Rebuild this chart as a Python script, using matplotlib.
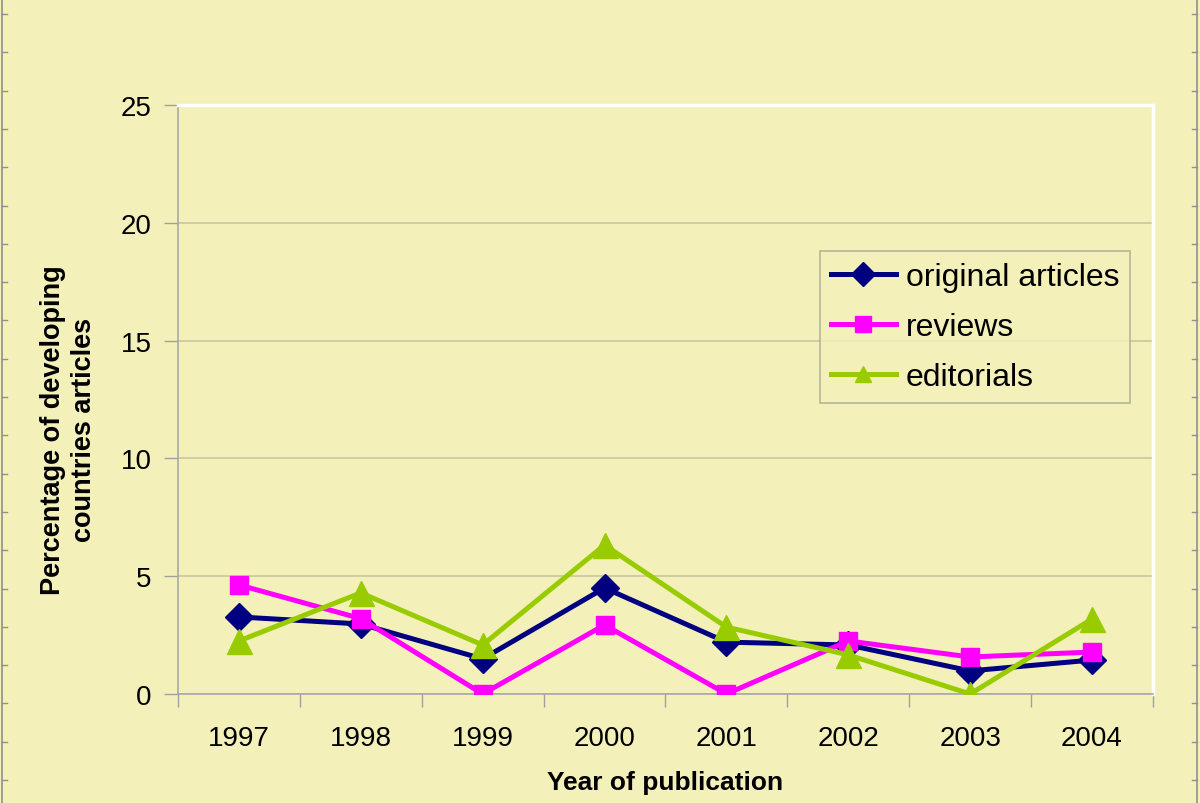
import numpy as np
import matplotlib
matplotlib.use("Agg")
import matplotlib.pyplot as plt
from matplotlib.lines import Line2D

years = ["1997", "1998", "1999", "2000", "2001", "2002", "2003", "2004"]
original_articles = [3.27, 2.97, 1.49, 4.50, 2.20, 2.08, 0.98, 1.44]
reviews = [4.63, 3.20, 0.00, 2.93, 0.00, 2.25, 1.57, 1.78]
editorials = [2.25, 4.29, 2.08, 6.32, 2.84, 1.66, 0.00, 3.18]
y_ticks = [0, 5, 10, 15, 20, 25]

plt.rcParams['font.family'] = ['Liberation Sans', 'DejaVu Sans']
bg = "#F4F0BA"

fig = plt.figure(figsize=(12, 8.04), dpi=100, facecolor=bg)
ax = fig.add_axes([0.1483, 0.1356, 0.8125, 0.7326])
ax.set_facecolor(bg)

x = np.arange(1, len(years) + 1)
ax.plot(x, original_articles, color="#000080", lw=3.6, marker="D", ms=14,
        label="original articles", zorder=3)
ax.plot(x, reviews, color="#FF00FF", lw=3.6, marker="s", ms=13,
        label="reviews", zorder=4)
ax.plot(x, editorials, color="#99CC00", lw=3.6, marker="^", ms=18,
        label="editorials", zorder=5)

ax.set_xlim(0.5, len(years) + 0.5)
ax.set_ylim(0, 25)
ax.set_yticks(y_ticks)
ax.set_xticks(x)
ax.set_xticklabels(years)
ax.set_xticks(np.arange(0.5, len(years) + 1, 1), minor=True)
ax.tick_params(axis="x", which="major", length=0, labelsize=20, pad=22)
ax.tick_params(axis="x", which="minor", length=9, color="#A0A0A0", width=1)
ax.tick_params(axis="y", length=10, color="#A0A0A0", width=1, labelsize=20, pad=9)
ax.grid(axis="y", color="#C9C5A0", lw=1.2)
ax.set_axisbelow(True)

for side in ["left", "bottom"]:
    ax.spines[side].set_color("#A8A8A8")
    ax.spines[side].set_linewidth(1.2)
for side in ["top", "right"]:
    ax.spines[side].set_color("white")
    ax.spines[side].set_linewidth(2.5)

ax.set_xlabel("Year of publication", fontsize=19, fontweight="bold", labelpad=14)
ax.set_ylabel("Percentage of developing\ncountries articles", fontsize=19.5,
              fontweight="bold", linespacing=1.25)
ax.yaxis.set_label_coords(-0.083, 0.45)

leg = ax.legend(loc="upper left", bbox_to_anchor=(0.658, 0.752), fontsize=23,
                frameon=True, fancybox=False, facecolor=bg, edgecolor="#A8A890",
                handlelength=2.05, borderpad=0.35, labelspacing=0.62,
                handletextpad=0.3, borderaxespad=0)
leg.get_frame().set_linewidth(1.2)
for h in leg.legend_handles:
    h.set_markersize(12)

# рамка по краям картинки с засечками
for xe, d in [(0.0015, 0.004), (0.9975, -0.004)]:
    fig.add_artist(Line2D([xe, xe], [0, 1], color="#909090", lw=1.2,
                          transform=fig.transFigure))
    for yy in np.arange(1 - 15 / 804, 0, -38.3 / 804):
        fig.add_artist(Line2D([xe, xe + d], [yy, yy], color="#909090", lw=1,
                              transform=fig.transFigure))

fig.savefig("out.png", dpi=100, facecolor=bg)
